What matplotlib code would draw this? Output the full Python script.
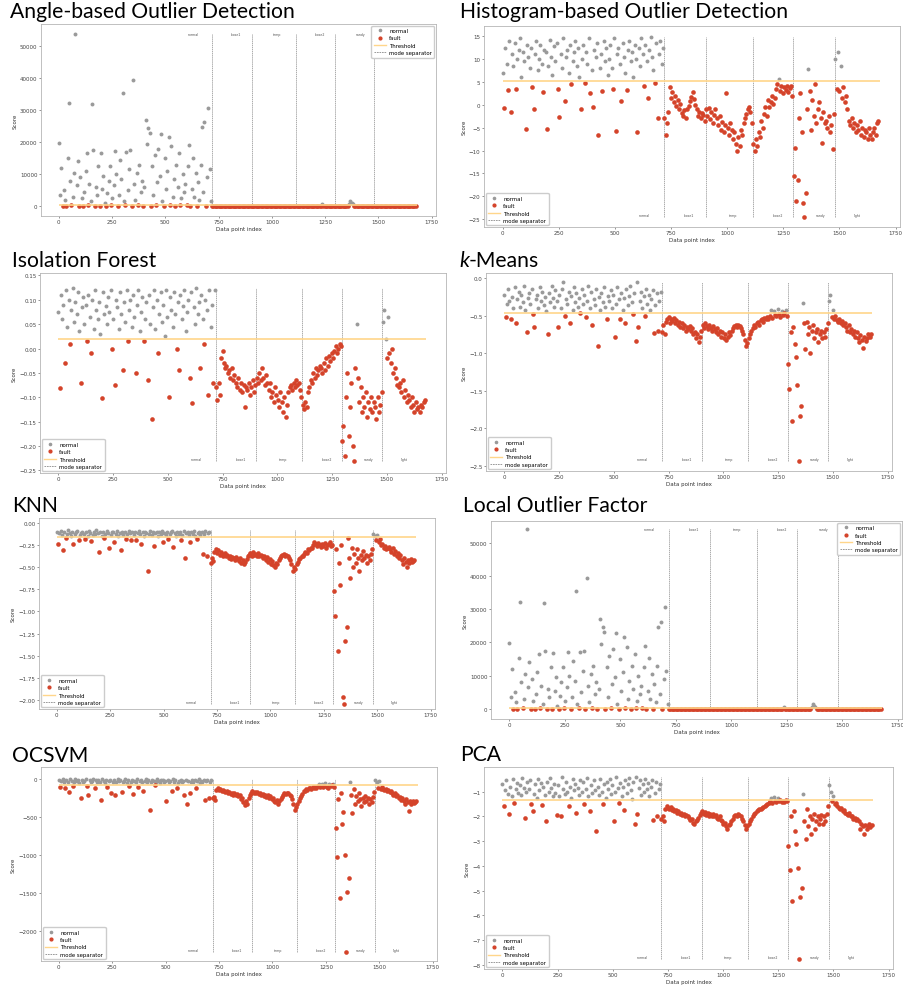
import numpy as np
import matplotlib.pyplot as plt
from matplotlib.lines import Line2D

# data point index, one reading every 6 points
idx = np.arange(0, 1680, 6)
n_points = 1680

mode_names = ["normal", "loose1", "temp", "loose2", "sandy", "light"]
mode_label_x = [632, 832, 1025, 1228, 1415, 1580]
mode_sep = [720, 905, 1115, 1295, 1480]

# ---- Angle-based (same picture as LOF)
abod_normal = [19800, 3500, 12000, 0, 5000, 2000, 100, 15200, 32300, 8000, 200, 3000, 10500, 54000, 6500, 14000, 0, 9000, 2500, 150,
               4500, 11000, 16500, 200, 7000, 1500, 32000, 17500, 100, 6000, 3500, 12500, 0, 16700, 5500, 9500, 1000, 150, 4000, 8000,
               12500, 200, 2500, 6500, 17200, 10000, 50, 3500, 14500, 8500, 35500, 1500, 300, 17000, 5000, 11500, 17500, 100, 39500, 7000,
               2000, 10500, 250, 13000, 4500, 8000, 0, 6000, 27000, 19500, 24500, 23000, 150, 12500, 3500, 16000, 200, 7500, 18000, 9500,
               22700, 1500, 100, 15000, 5500, 11000, 21500, 300, 18700, 3000, 8500, 0, 13000, 6000, 16500, 250, 2500, 10000, 4500, 7000,
               200, 12500, 19000, 100, 5500, 15200, 3000, 10500, 0, 7500, 2000, 13000, 24700, 4500, 26200, 150, 9000, 30600, 11500, 1500]
abod_fault = [0, 50, -30, 20, 0, -40, 30, 10, -20, 0, 40, -10, 20, -30, 0, 10, -20, 30, 0, -10,
              20, -30, 0, 40, -10, 10, -20, 0, 30, -40, 0, 20, -10, 10, 0, -30, 40, -20, 0, 10,
              -10, 30, 0, -20, 20, 0, -40, 10, 30, -10, 0, 20, -30, 0, 10, -20, 40, 0, -10, 20,
              0, -20, 30, 10, -30, 0, 20, -10, 40, 0, -20, 10, 0, 30, -10, 20, -30, 0, 10, -20,
              30, 0, -10, 20, 0, -30, 600, 10, -20, 0, 40, -10, 20, 0, -30, 10, 0, 20, -10, 30,
              0, -20, 10, 30, -10, 0, 20, 500, 1500, 1000, 700, -10, 20, 0, -30, 10, 0, 30, -20, 10,
              0, 20, -10, 0, 30, -20, 10, 0, -30, 20, 0, 10, -10, 30, 0, -20, 20, 0, 10, -10,
              30, 0, -20, 10, 0, 20, -30, 0, 10, -10, 20, 0, -20, 30, 0, 10, -10, 0, 20, -20]

# ---- Histogram-based
hbos_normal = [7.0, -0.8, 12.5, 9.0, 3.2, 14.0, -1.5, 11.0, 8.5, 13.5, 3.5, 10.0, 12.0, 14.5, 6.0, 11.5, 9.5, -5.3, 13.0, 10.5,
               8.0, 12.5, 3.8, -1.0, 11.0, 14.0, 7.5, 10.0, 13.0, 9.0, 2.8, 12.0, 11.5, -5.3, 8.5, 14.2, 10.5, 6.5, 12.8, 9.5,
               13.5, 3.5, -2.7, 11.0, 8.0, 14.5, 0.8, 10.5, 12.0, 7.0, 13.0, 4.5, 9.5, 11.5, 14.0, 8.5, 12.5, 6.0, -1.0, 10.0,
               13.0, 4.8, 11.5, 9.0, 14.5, 2.5, 7.5, -0.5, 12.0, 10.5, 13.5, -6.5, 8.0, 11.0, 3.0, 14.0, 9.5, 12.5, 6.5, 10.0,
               13.0, 8.0, 3.5, 14.5, -5.8, 11.0, 12.5, 9.0, 0.9, 13.5, 10.5, 7.0, 3.2, 12.0, 14.0, 9.5, 11.5, 6.0, 13.0, 10.0,
               -5.9, 12.5, 8.5, 14.5, 11.0, 4.0, 13.0, 9.5, 1.5, 12.0, 14.8, 10.5, 7.5, 4.8, 13.5, -2.8, 11.0, 14.0, 9.0, 12.5]
hbos_fault = [-3.0, -6.5, -4.0, -1.5, 3.8, 1.5, 2.8, 0.5, 2.0, -0.3, 1.0, -1.0, 0.2, -1.8, -2.5, -1.2, -2.8, -1.0, -0.2, 0.8,
              1.8, 2.8, 1.2, 0.0, -1.0, -2.5, -1.5, -3.0, -1.8, -2.2, -3.5, -1.0, -2.5, -0.8, -3.2, -1.5, -4.0, -2.2, -1.0, -3.0,
              -4.5, -2.5, -5.5, -3.8, -6.0, -4.5, 2.5, -5.0, -6.5, -4.0, -5.5, -7.5, -6.0, -8.5, -10.0, -7.0, -9.0, -5.5, -6.5, -4.0,
              -3.0, -2.0, -1.0, -0.5, -1.5, -4.0, -8.5, -10.0, -7.5, -9.0, -6.0, -7.0, -3.5, -5.0, -2.0, -0.5, -2.5, 1.0, -0.5, 0.5,
              2.0, 0.2, 1.5, 3.5, 4.5, 5.6, 3.0, 4.0, 2.5, 3.8, 3.2, 4.2, 2.8, 3.6, 4.0, 2.0, -15.5, -9.5, -21.0, -16.5,
              -3.0, 2.5, -6.0, -21.5, -24.6, -19.3, -1.0, 7.7, 3.0, -5.5, 1.0, -2.5, 4.5, -4.0, -1.0, 0.5, -3.0, -8.3, -1.5, -4.0,
              -3.5, -5.0, -2.5, -6.0, -4.5, -9.6, -2.0, 10.0, 3.5, 11.5, 3.0, 8.5, 1.5, 3.8, 0.5, 2.0, -1.0, -3.5, -4.5, -3.0,
              -5.0, -4.0, -6.0, -4.5, -5.5, -3.5, -6.5, -5.0, -7.0, -5.5, -6.0, -7.5, -5.0, -6.5, -7.5, -6.0, -5.0, -6.5, -4.0, -3.5]

# ---- Isolation Forest
iforest_normal = [0.075, -0.082, 0.11, 0.06, 0.09, -0.03, 0.12, 0.045, 0.1, 0.01, 0.08, 0.125, 0.055, 0.095, 0.07, 0.115, 0.035, -0.07, 0.085, 0.105,
                  0.05, 0.09, 0.015, 0.11, 0.065, -0.01, 0.1, 0.04, 0.12, 0.08, 0.06, 0.095, 0.03, -0.102, 0.115, 0.07, 0.088, 0.05, 0.105, 0.075,
                  0.12, 0.0, 0.06, -0.075, 0.1, 0.085, 0.04, 0.115, 0.07, -0.045, 0.095, 0.055, 0.12, 0.015, 0.08, 0.1, 0.045, 0.11, 0.065, -0.05,
                  0.09, 0.12, 0.035, 0.075, 0.105, 0.015, 0.06, 0.095, -0.065, 0.11, 0.05, -0.145, 0.085, 0.12, 0.04, 0.1, -0.01, 0.07, 0.115, 0.055,
                  0.09, 0.025, 0.12, 0.065, -0.1, 0.105, 0.08, 0.045, 0.115, 0.07, 0.0, 0.095, -0.045, 0.11, 0.06, 0.088, 0.12, 0.035, 0.075, 0.1,
                  -0.06, 0.115, -0.112, 0.085, 0.05, 0.125, 0.07, 0.095, -0.04, 0.11, 0.06, 0.01, 0.1, 0.08, -0.095, 0.12, 0.045, 0.09, -0.07, 0.12]
iforest_fault = [-0.08, -0.105, -0.07, -0.095, -0.02, -0.005, -0.03, -0.04, -0.035, -0.05, -0.045, -0.06, -0.04, -0.065, -0.055, -0.07, -0.08, -0.06, -0.085, -0.07,
                 -0.09, -0.075, -0.12, -0.08, -0.085, -0.07, -0.095, -0.08, -0.065, -0.09, -0.075, -0.06, -0.07, -0.05, -0.065, -0.04, -0.06, -0.075, -0.055, -0.07,
                 -0.085, -0.07, -0.1, -0.09, -0.11, -0.08, -0.095, -0.105, -0.12, -0.09, -0.11, -0.13, -0.1, -0.14, -0.115, -0.09, -0.08, -0.075, -0.085, -0.07,
                 -0.08, -0.065, -0.075, -0.07, -0.085, -0.1, -0.115, -0.125, -0.11, -0.12, -0.09, -0.08, -0.065, -0.07, -0.05, -0.06, -0.04, -0.055, -0.045, -0.035,
                 -0.04, -0.05, -0.03, -0.045, -0.02, -0.035, -0.015, -0.025, -0.01, -0.02, -0.005, 0.005, -0.01, 0.0, 0.01, 0.005, -0.19, -0.16, -0.22, -0.1,
                 -0.05, -0.18, -0.12, -0.07, -0.2, -0.23, -0.04, 0.05, -0.06, -0.11, -0.08, -0.13, -0.1, -0.12, -0.09, -0.14, -0.11, -0.125, -0.1, -0.13,
                 -0.11, -0.12, -0.145, -0.1, -0.13, -0.115, -0.09, 0.055, 0.08, 0.02, -0.02, 0.065, -0.01, -0.03, 0.0, -0.05, -0.04, -0.06, -0.075, -0.08,
                 -0.07, -0.09, -0.065, -0.1, -0.085, -0.11, -0.095, -0.105, -0.12, -0.1, -0.115, -0.13, -0.11, -0.125, -0.12, -0.13, -0.115, -0.12, -0.11, -0.105]

# ---- k-Means
kmeans_normal = [-0.22, -0.52, -0.35, -0.15, -0.3, -0.55, -0.25, -0.4, -0.12, -0.6, -0.28, -0.18, -0.38, -0.22, -0.32, -0.1, -0.42, -0.72, -0.26, -0.2,
                 -0.34, -0.15, -0.48, -0.65, -0.28, -0.22, -0.4, -0.12, -0.3, -0.18, -0.36, -0.25, -0.44, -0.75, -0.2, -0.32, -0.1, -0.27, -0.38, -0.16,
                 -0.3, -0.65, -0.22, -0.4, -0.14, -0.05, -0.5, -0.28, -0.35, -0.18, -0.6, -0.24, -0.42, -0.12, -0.32, -0.2, -0.38, -0.26, -0.47, -0.15,
                 -0.34, -0.22, -0.52, -0.3, -0.1, -0.4, -0.18, -0.63, -0.28, -0.36, -0.15, -0.91, -0.25, -0.42, -0.2, -0.32, -0.12, -0.38, -0.55, -0.24,
                 -0.3, -0.16, -0.4, -0.22, -0.78, -0.34, -0.12, -0.28, -0.55, -0.2, -0.42, -0.26, -0.6, -0.15, -0.36, -0.24, -0.1, -0.32, -0.48, -0.2,
                 -0.84, -0.05, -0.65, -0.3, -0.18, -0.4, -0.24, -0.5, -0.14, -0.34, -0.22, -0.42, -0.28, -0.16, -0.73, -0.36, -0.2, -0.71, -0.3, -0.18]
kmeans_fault = [-0.72, -0.62, -0.75, -0.58, -0.55, -0.52, -0.6, -0.54, -0.57, -0.53, -0.6, -0.56, -0.62, -0.58, -0.65, -0.6, -0.67, -0.63, -0.7, -0.65,
                -0.68, -0.64, -0.7, -0.66, -0.75, -0.72, -0.8, -0.74, -0.85, -0.78, -0.7, -0.62, -0.66, -0.6, -0.64, -0.68, -0.62, -0.66, -0.7, -0.64,
                -0.68, -0.72, -0.66, -0.75, -0.7, -0.78, -0.72, -0.8, -0.75, -0.82, -0.78, -0.72, -0.76, -0.7, -0.66, -0.64, -0.62, -0.65, -0.63, -0.64,
                -0.66, -0.7, -0.75, -0.82, -0.9, -0.86, -0.8, -0.74, -0.7, -0.66, -0.62, -0.65, -0.6, -0.58, -0.62, -0.56, -0.55, -0.58, -0.53, -0.55,
                -0.52, -0.55, -0.5, -0.42, -0.53, -0.44, -0.49, -0.5, -0.41, -0.48, -0.52, -0.44, -0.49, -0.47, -0.42, -0.5, -1.15, -1.48, -0.72, -1.9,
                -0.65, -0.88, -1.05, -1.42, -2.43, -1.83, -1.7, -0.33, -0.6, -0.95, -0.58, -0.75, -0.65, -1.0, -0.7, -0.62, -0.8, -0.72, -0.68, -0.85,
                -0.75, -0.7, -0.8, -0.72, -0.78, -0.68, -0.6, -0.3, -0.22, -0.52, -0.42, -0.55, -0.5, -0.56, -0.58, -0.54, -0.6, -0.57, -0.62, -0.6,
                -0.65, -0.7, -0.62, -0.72, -0.68, -0.75, -0.7, -0.78, -0.72, -0.8, -0.85, -0.76, -0.82, -0.93, -0.78, -0.84, -0.8, -0.75, -0.78, -0.74]

# ---- KNN
knn_normal = [-0.1, -0.24, -0.12, -0.09, -0.14, -0.31, -0.11, -0.17, -0.13, -0.08, -0.12, -0.15, -0.1, -0.24, -0.13, -0.11, -0.09, -0.2, -0.14, -0.12,
              -0.1, -0.13, -0.18, -0.11, -0.15, -0.09, -0.12, -0.21, -0.14, -0.1, -0.13, -0.08, -0.12, -0.33, -0.11, -0.15, -0.1, -0.17, -0.13, -0.09,
              -0.12, -0.28, -0.14, -0.1, -0.11, -0.22, -0.13, -0.09, -0.15, -0.12, -0.31, -0.1, -0.14, -0.11, -0.18, -0.13, -0.09, -0.12, -0.2, -0.11,
              -0.14, -0.1, -0.19, -0.12, -0.09, -0.13, -0.24, -0.11, -0.15, -0.1, -0.12, -0.55, -0.13, -0.09, -0.14, -0.11, -0.26, -0.12, -0.1, -0.15,
              -0.11, -0.13, -0.09, -0.22, -0.12, -0.14, -0.1, -0.18, -0.13, -0.11, -0.09, -0.27, -0.12, -0.15, -0.1, -0.13, -0.11, -0.2, -0.14, -0.09,
              -0.4, -0.12, -0.1, -0.14, -0.22, -0.11, -0.13, -0.09, -0.15, -0.18, -0.12, -0.1, -0.14, -0.11, -0.35, -0.13, -0.09, -0.37, -0.12, -0.1]
knn_fault = [-0.45, -0.4, -0.43, -0.33, -0.3, -0.34, -0.31, -0.36, -0.33, -0.35, -0.37, -0.34, -0.38, -0.36, -0.4, -0.38, -0.41, -0.39, -0.4, -0.42,
             -0.39, -0.41, -0.43, -0.4, -0.45, -0.42, -0.47, -0.44, -0.41, -0.38, -0.36, -0.34, -0.37, -0.33, -0.36, -0.35, -0.38, -0.34, -0.37, -0.36,
             -0.38, -0.4, -0.37, -0.42, -0.39, -0.44, -0.41, -0.46, -0.43, -0.48, -0.5, -0.45, -0.47, -0.42, -0.4, -0.37, -0.36, -0.35, -0.37, -0.36,
             -0.38, -0.4, -0.42, -0.47, -0.55, -0.5, -0.52, -0.46, -0.44, -0.41, -0.4, -0.37, -0.38, -0.35, -0.33, -0.34, -0.3, -0.31, -0.28, -0.29,
             -0.25, -0.22, -0.24, -0.26, -0.23, -0.25, -0.27, -0.24, -0.26, -0.23, -0.28, -0.25, -0.24, -0.22, -0.26, -0.25, -0.77, -1.05, -0.3, -1.45,
             -0.45, -0.7, -0.25, -1.97, -2.04, -1.33, -1.18, -0.17, -0.4, -0.62, -0.28, -0.5, -0.35, -0.45, -0.3, -0.4, -0.55, -0.36, -0.42, -0.32,
             -0.4, -0.36, -0.45, -0.38, -0.42, -0.35, -0.3, -0.13, -0.15, -0.2, -0.14, -0.22, -0.18, -0.25, -0.24, -0.28, -0.26, -0.3, -0.28, -0.27,
             -0.3, -0.33, -0.29, -0.35, -0.32, -0.38, -0.34, -0.4, -0.36, -0.42, -0.46, -0.4, -0.44, -0.5, -0.42, -0.45, -0.41, -0.44, -0.43, -0.42]

# ---- OCSVM
ocsvm_normal = [-10, -100, -25, 5, -40, -110, -15, -30, -170, 0, -20, -90, -35, 10, -25, -5, -45, -240, -15, -30,
                -20, 5, -85, -200, -10, -35, -25, 0, -120, -15, -40, -10, -30, -270, 5, -20, -45, -15, -95, -25,
                -5, -180, -30, -15, -210, -40, 0, -25, -10, -170, -35, -20, 5, -45, -15, -90, -30, -10, -190, -25,
                -40, 0, -100, -20, -10, -35, -150, -25, 5, -30, -15, -410, -40, -10, -20, -80, -30, 0, -25, -45,
                -15, -5, -35, -20, -290, -10, -40, -25, -160, 0, -30, -15, -120, -45, -20, -5, -35, -25, -200, -10,
                -330, -20, -180, -40, -5, -30, -15, -110, -25, 0, -45, -20, -35, -10, -270, -25, -5, -240, -30, -15]
ocsvm_fault = [-250, -230, -270, -140, -120, -135, -125, -150, -140, -160, -165, -150, -180, -170, -190, -175, -200, -185, -210, -195,
               -220, -200, -260, -240, -300, -340, -280, -320, -240, -210, -180, -160, -175, -165, -185, -170, -195, -180, -200, -190,
               -215, -200, -230, -210, -250, -225, -260, -240, -280, -300, -270, -320, -290, -260, -230, -200, -180, -190, -175, -185,
               -200, -220, -260, -320, -400, -360, -330, -290, -250, -220, -190, -160, -150, -130, -140, -120, -110, -125, -100, -115,
               -95, -110, -90, -60, -105, -55, -100, -85, -50, -95, -110, -65, -90, -80, -60, -100, -640, -1030, -260, -1560,
               -180, -590, -430, -1000, -2280, -1490, -1300, -40, -200, -450, -130, -330, -220, -280, -180, -260, -350, -240, -300, -220,
               -280, -250, -320, -260, -300, -230, -170, -10, -40, -110, -20, -130, -100, -125, -140, -130, -150, -140, -165, -155,
               -180, -200, -175, -220, -210, -250, -230, -270, -240, -290, -330, -260, -300, -420, -280, -320, -290, -310, -300, -285]

# ---- PCA
pca_normal = [-0.7, -1.6, -0.95, -0.55, -1.1, -1.9, -0.8, -1.2, -0.5, -1.45, -0.9, -0.65, -1.05, -0.75, -1.15, -0.45, -0.85, -2.05, -1.0, -0.6,
              -0.9, -0.55, -1.5, -1.8, -1.1, -0.7, -1.25, -0.5, -0.95, -0.65, -1.55, -0.8, -1.15, -2.2, -0.6, -1.0, -0.45, -0.85, -1.2, -0.7,
              -1.05, -1.95, -0.75, -1.2, -2.0, -0.4, -0.9, -1.1, -0.6, -1.0, -1.6, -0.8, -1.25, -0.5, -0.95, -0.7, -1.85, -0.85, -1.15, -0.55,
              -1.0, -0.6, -1.5, -0.9, -0.45, -1.2, -1.8, -0.75, -1.05, -0.55, -0.95, -2.6, -0.8, -1.15, -0.5, -1.0, -1.5, -0.7, -1.25, -0.6,
              -0.9, -0.5, -1.1, -0.75, -2.2, -1.0, -0.4, -0.85, -1.45, -0.65, -1.2, -0.8, -1.75, -0.55, -1.05, -0.7, -0.45, -0.95, -1.3, -0.6,
              -2.3, -0.4, -1.9, -0.85, -0.55, -1.15, -0.7, -1.0, -0.5, -0.9, -0.65, -1.2, -0.8, -0.55, -2.15, -1.05, -0.6, -2.0, -0.9, -0.7]
pca_fault = [-2.1, -2.0, -2.2, -1.7, -1.6, -1.65, -1.7, -1.62, -1.75, -1.7, -1.8, -1.75, -1.85, -1.8, -1.9, -1.85, -1.95, -1.9, -2.0, -1.95,
             -2.0, -2.05, -2.15, -2.1, -2.25, -2.3, -2.2, -2.15, -2.05, -1.95, -1.85, -1.8, -1.9, -1.82, -1.95, -1.88, -2.0, -1.9, -1.98, -1.92,
             -2.0, -1.95, -2.05, -2.1, -2.0, -2.15, -2.2, -2.3, -2.25, -2.4, -2.5, -2.35, -2.3, -2.2, -2.1, -2.0, -1.95, -1.98, -1.92, -1.96,
             -2.0, -2.1, -2.2, -2.35, -2.5, -2.4, -2.3, -2.2, -2.1, -2.0, -1.9, -1.85, -1.8, -1.75, -1.7, -1.72, -1.65, -1.62, -1.58, -1.55,
             -1.5, -1.45, -1.4, -1.25, -1.45, -1.22, -1.38, -1.42, -1.28, -1.4, -1.35, -1.44, -1.38, -1.42, -1.36, -1.4, -3.2, -4.15, -2.0, -5.4,
             -1.8, -2.6, -3.1, -4.1, -7.75, -5.25, -4.9, -1.1, -2.2, -2.9, -1.7, -2.4, -2.0, -2.7, -2.1, -1.9, -2.5, -2.2, -2.0, -2.3,
             -2.1, -1.95, -2.3, -2.0, -2.2, -1.9, -1.6, -0.75, -1.0, -1.4, -1.2, -1.5, -1.45, -1.6, -1.65, -1.7, -1.68, -1.78, -1.75, -1.85,
             -1.9, -1.95, -1.85, -2.0, -1.98, -2.1, -2.05, -2.15, -2.1, -2.2, -2.5, -2.3, -2.4, -2.7, -2.35, -2.5, -2.4, -2.3, -2.45, -2.35]

thresholds = {"abod": 400, "hbos": 5.2, "if": 0.019, "km": -0.465,
              "knn": -0.162, "lof": 400, "ocsvm": -72, "pca": -1.34}

GRAY = "#9a9a9a"
RED = "#d4432a"
ORANGE = "#ffd68a"

W, H = 904, 987
fig = plt.figure(figsize=(W / 100, H / 100), dpi=100)


def px_box(x0, y0, x1, y1):
    return [x0 / W, 1 - y1 / H, (x1 - x0) / W, (y1 - y0) / H]


# (key, normal, fault, box px, ylim, yticks, legend loc, labels at top)
panels = [
    ("abod", abod_normal, abod_fault, (41, 25, 436, 217), (-3100, 57000),
     np.arange(0, 50001, 10000), "upper right", True),
    ("hbos", hbos_normal, hbos_fault, (484, 27, 900, 228), (-26.7, 17.2),
     np.arange(-25, 16, 5), "lower left", False),
    ("if", iforest_normal, iforest_fault, (40, 274, 446, 474), (-0.2555, 0.155),
     np.linspace(-0.25, 0.15, 9), "lower left", False),
    ("km", kmeans_normal, kmeans_fault, (486, 274, 892, 472), (-2.567, 0.067),
     np.linspace(-2.5, 0.0, 6), "lower left", False),
    ("knn", knn_normal, knn_fault, (39, 519, 435, 710), (-2.10, 0.053),
     np.linspace(-2.0, 0.0, 9), "lower left", False),
    ("lof", abod_normal, abod_fault, (491, 522, 902, 720), (-3000, 56500),
     np.arange(0, 50001, 10000), "upper right", True),
    ("ocsvm", ocsvm_normal, ocsvm_fault, (41, 768, 437, 962), (-2397, 163),
     np.arange(-2000, 1, 500), "lower left", False),
    ("pca", pca_normal, pca_fault, (484, 768, 893, 970), (-8.16, -0.01),
     np.arange(-8, 0, 1), "lower left", False),
]

for key, normal, fault, box, ylim, yticks, loc, top in panels:
    ax = fig.add_axes(px_box(*box))
    score = np.array(normal + fault, dtype=float)
    thr = thresholds[key]
    ok = score > thr
    ax.scatter(idx[ok], score[ok], s=8, color=GRAY, linewidths=0, zorder=2)
    ax.scatter(idx[~ok], score[~ok], s=11, color=RED, linewidths=0, zorder=2)
    ax.hlines(thr, 0, n_points - 1, color=ORANGE, lw=1.2, zorder=3)
    ax.vlines(mode_sep, score.min(), score.max(), color="#8a8a8a",
              lw=0.5, linestyles=(0, (2, 1)), zorder=1)
    ly = score.max() if top else score.min()
    for name, lx in zip(mode_names, mode_label_x):
        if top and name == "light":
            continue  # sits under the legend in these panels
        ax.text(lx, ly, name, fontsize=2.3, color="#555555", ha="center",
                va="center" if top else "bottom")
    ax.set_xlim(-83, 1770)
    ax.set_ylim(*ylim)
    ax.set_xticks(np.arange(0, 1751, 250))
    ax.set_yticks(yticks)
    ax.tick_params(labelsize=4, length=1.5, width=0.4, pad=1, colors="#444444")
    for s in ax.spines.values():
        s.set_color("#b5b5b5")
        s.set_linewidth(0.6)
    ax.set_xlabel("Data point index", fontsize=4, labelpad=1, color="#333333")
    ax.set_ylabel("Score", fontsize=4, labelpad=2, color="#333333")
    handles = [
        Line2D([], [], marker="o", ls="none", ms=1.6, color=GRAY),
        Line2D([], [], marker="o", ls="none", ms=2.0, color=RED),
        Line2D([], [], color=ORANGE, lw=1.0),
        Line2D([], [], color="#8a8a8a", lw=0.6, ls=(0, (2, 1))),
    ]
    ax.legend(handles, ["normal", "fault", "Threshold", "mode separator"],
              loc=loc, fontsize=3.9, frameon=True, borderaxespad=0.3,
              handlelength=2.2, labelspacing=0.45, borderpad=0.45,
              handletextpad=0.6, edgecolor="#cccccc", fancybox=True,
              framealpha=1)

# panel titles (pixel x, baseline y)
tfont = dict(family=["Lato", "DejaVu Sans"], fontsize=15.2, color="black", va="baseline")
titles = [
    ("Angle-based Outlier Detection", 10, 18),
    ("Histogram-based Outlier Detection", 460, 18),
    ("Isolation Forest", 12, 267),
    ("KNN", 12, 512),
    ("Local Outlier Factor", 463, 512),
    ("OCSVM", 12, 762),
    ("PCA", 460, 761),
]
for text, x, y in titles:
    fig.text(x / W, 1 - y / H, text, **tfont)

tk = fig.text(459 / W, 1 - 267 / H, "k", style="italic", **tfont)
fig.canvas.draw()
bb = tk.get_window_extent()
fig.text(bb.x1 / fig.bbox.width, 1 - 267 / H, "-Means", **tfont)

fig.savefig("out.png", dpi=100)
